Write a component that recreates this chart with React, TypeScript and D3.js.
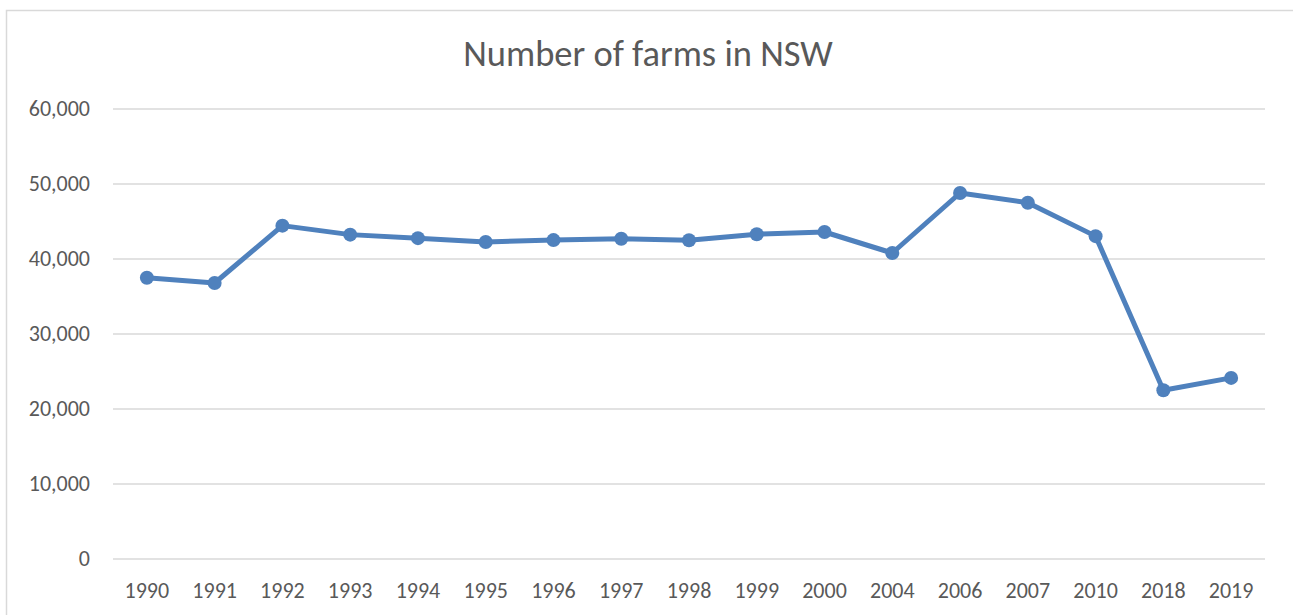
import React from 'react';
import * as d3 from 'd3';

const years = ['1990', '1991', '1992', '1993', '1994', '1995', '1996', '1997', '1998', '1999', '2000', '2004', '2006', '2007', '2010', '2018', '2019'];
const farms = [37500, 36800, 44450, 43250, 42780, 42270, 42520, 42700, 42500, 43300, 43600, 40800, 48800, 47500, 43050, 22500, 24150];
const yTicks = [0, 10000, 20000, 30000, 40000, 50000, 60000];

const W = 1293;
const H = 615;

export default function App() {
  const left = 113, right = 1265, top = 109, bottom = 559;

  const x = d3.scaleBand().domain(years).range([left, right]);
  const y = d3.scaleLinear().domain([0, 60000]).range([bottom, top]);
  const fmt = d3.format(',');

  const line = d3.line<number>()
    .x((d, i) => x(years[i])! + x.bandwidth() / 2)
    .y((d) => y(d));

  const font = 'Carlito, Lato, "Open Sans", sans-serif';

  return (
    <svg width={W} height={H} style={{ position: 'absolute', left: 0, top: 0 }}>
      <rect x={0} y={0} width={W} height={H} fill="#fff" />
      <rect x={6.5} y={10.5} width={W + 20} height={H + 20} fill="none" stroke="#d9d9d9" strokeWidth={1.5} />
      <text x={648} y={66} textAnchor="middle" fontFamily={font} fontSize={36.5} fill="#595959">
        Number of farms in NSW
      </text>
      <g>
        {yTicks.map((t) => (
          <g key={t}>
            <line x1={left} x2={right} y1={y(t)} y2={y(t)} stroke="#d9d9d9" strokeWidth={1.5} />
            <text x={90} y={y(t) + 7} textAnchor="end" fontFamily={font} fontSize={22} fill="#595959">
              {fmt(t)}
            </text>
          </g>
        ))}
      </g>
      <g>
        {years.map((yr) => (
          <text key={yr} x={x(yr)! + x.bandwidth() / 2} y={598} textAnchor="middle" fontFamily={font} fontSize={22} fill="#595959">
            {yr}
          </text>
        ))}
      </g>
      <path d={line(farms) || ''} fill="none" stroke="#4f81bd" strokeWidth={5} strokeLinejoin="round" />
      {farms.map((v, i) => (
        <circle key={i} cx={x(years[i])! + x.bandwidth() / 2} cy={y(v)} r={7} fill="#4f81bd" />
      ))}
    </svg>
  );
}
